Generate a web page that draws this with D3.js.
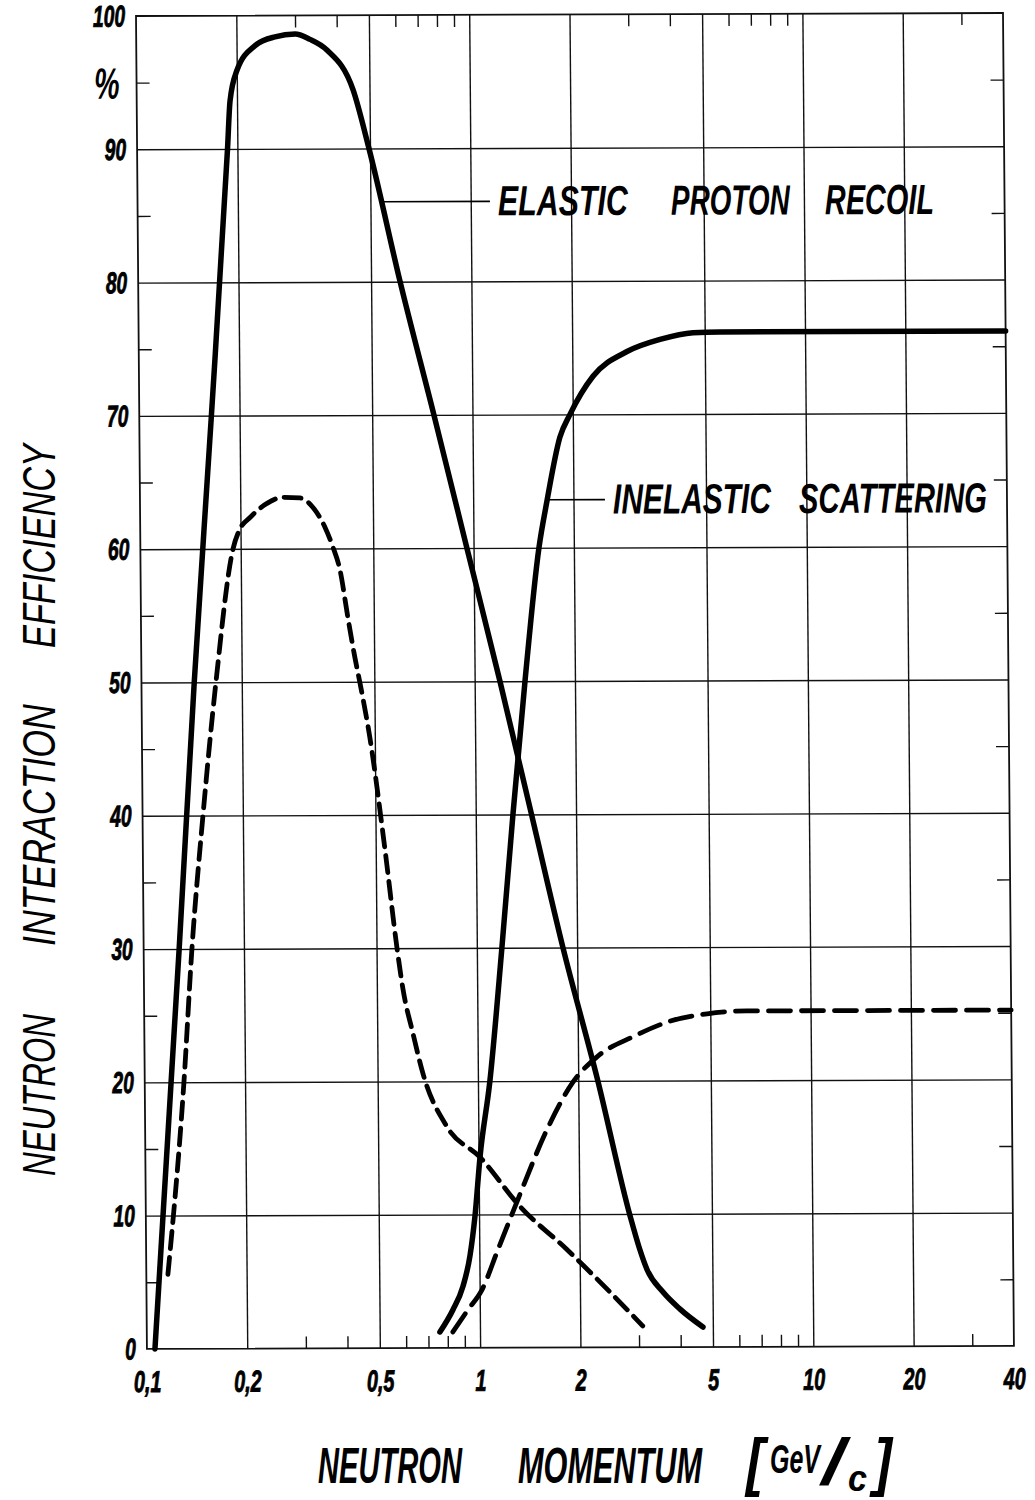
<!DOCTYPE html>
<html>
<head>
<meta charset="utf-8">
<script src="https://cdn.jsdelivr.net/npm/d3@7"></script>
<style>
   body { margin: 0; background: #fff; }
   svg { display: block; }
   text { font-family: "Liberation Sans", Arial, sans-serif; font-style: italic; fill: #000; }
</style>
</head>
<body>
<script>
"use strict"

// [momentum GeV/c, efficiency %]
const elasticSolid = [
   [0.1057, 0], [0.1278, 30], [0.144, 50], [0.1646, 70], [0.1868, 90],
   [0.1906, 93.6], [0.2003, 95.9], [0.2273, 97.75], [0.261, 98.4], [0.300, 98.6],
   [0.3323, 98.2], [0.3733, 97.4], [0.4464, 94.4], [0.4965, 90], [0.611, 80],
   [0.766, 70], [0.955, 60], [1.191, 50], [1.47, 40], [1.813, 30], [2.29, 20],
   [2.84, 9.85], [3.03, 7.35], [3.18, 5.85], [3.55, 4.13], [3.99, 2.85], [4.67, 1.5]
]
const elasticDashed = [
   [0.1161, 5.6], [0.1311, 20], [0.1396, 30], [0.1518, 40], [0.1673, 50],
   [0.1897, 60], [0.1993, 61.5], [0.2137, 62.35], [0.2405, 63.4], [0.2687, 63.85],
   [0.302, 63.8], [0.330, 63.1], [0.3585, 61.6], [0.3785, 60.1], [0.3967, 58.4],
   [0.418, 54.8], [0.4378, 51.8], [0.4527, 49.9], [0.4832, 45.8], [0.533, 37.4],
   [0.576, 30], [0.599, 26.9], [0.640, 23.6], [0.684, 20.6], [0.805, 16.6],
   [1.01, 14.3], [1.327, 10.6], [1.832, 7.35], [2.30, 4.9], [3.08, 1.6]
]
const inelasticSolid = [
   [0.758, 1.2], [0.830, 2.85], [0.891, 4.6], [0.937, 6.9], [0.972, 9.85],
   [1.010, 14.3], [1.086, 20], [1.189, 30], [1.293, 40], [1.416, 50],
   [1.571, 60], [1.665, 63.5], [1.828, 68.3], [1.962, 70], [2.305, 72.85],
   [2.92, 74.7], [3.67, 75.6], [4.61, 76.1], [5.56, 76.15], [40, 76.15]
]
const inelasticDashed = [
   [0.829, 1.2], [0.921, 2.85], [1.016, 4.35], [1.137, 7.35], [1.328, 11.5],
   [1.607, 16.35], [1.928, 19.9], [2.28, 21.8], [2.93, 23.3], [3.78, 24.45],
   [4.89, 25.0], [6.44, 25.2], [40, 25.2]
]

const xMajor = [0.1, 0.2, 0.5, 1, 2, 5, 10, 20, 40]
const xMajorLabels = ['0,1', '0,2', '0,5', '1', '2', '5', '10', '20', '40']
const xMinor = [0.3, 0.4, 0.6, 0.7, 0.8, 0.9, 3, 4, 6, 7, 8, 9, 30]
const yMajor = [0, 10, 20, 30, 40, 50, 60, 70, 80, 90, 100]
const yMajorLabels = ['0', '10', '20', '30', '40', '50', '60', '70', '80', '90', '100']
const yMinor = [5, 15, 25, 35, 45, 55, 65, 75, 85, 95]
const yUnit = '%'

const yTitleWords = ['NEUTRON', 'INTERACTION', 'EFFICIENCY']
const xTitleWords = ['NEUTRON', 'MOMENTUM']
const unitParts = ['[', 'GeV', '/', 'c', ']']
const elasticWords = ['ELASTIC', 'PROTON', 'RECOIL']
const inelasticWords = ['INELASTIC', 'SCATTERING']

const W = 1035, H = 1500
const pw = 867, ph = 1333

const svg = d3.select('body').append('svg')
   .attr('width', W)
   .attr('height', H)

// squeeze a text to a given width (the lettering is narrow)
const fit = (parent, str, px, py, len, size, extra) => {
   const t = parent.append('text')
      .attr('font-size', size)
      .attr('font-weight', 'bold')
      .text(str)
   const n = t.node().getComputedTextLength()
   t.attr('transform', `translate(${px},${py}) ${extra || ''} scale(${len / n},1)`)
   return t
}

// the original sheet is slightly sheared / turned
const plot = svg.append('g')
   .attr('transform', 'translate(136,16) rotate(-0.2) skewX(0.27)')

const x = d3.scaleLog([0.1, 40], [0, pw])
const y = d3.scaleLinear([0, 100], [ph, 0])

const clean = g => {
   g.select('.domain').remove()
   g.attr('font-size', null).attr('font-family', null)
   g.selectAll('line').attr('stroke', '#111').attr('stroke-width', 1.4)
}

// grid
plot.append('g')
   .attr('transform', `translate(0,${ph})`)
   .call(d3.axisBottom(x).tickValues(xMajor.slice(1, -1)).tickSize(-ph).tickFormat(''))
   .call(clean)
plot.append('g')
   .call(d3.axisLeft(y).tickValues(yMajor.slice(1, -1)).tickSize(-pw).tickFormat(''))
   .call(clean)

// minor ticks
plot.append('g')
   .attr('transform', `translate(0,${ph})`)
   .call(d3.axisBottom(x).tickValues(xMinor).tickSize(-12).tickFormat(''))
   .call(clean)
plot.append('g')
   .call(d3.axisTop(x).tickValues(xMinor).tickSize(-12).tickFormat(''))
   .call(clean)
plot.append('g')
   .call(d3.axisLeft(y).tickValues(yMinor).tickSize(-13).tickFormat(''))
   .call(clean)
plot.append('g')
   .attr('transform', `translate(${pw},0)`)
   .call(d3.axisRight(y).tickValues(yMinor).tickSize(-13).tickFormat(''))
   .call(clean)

plot.append('rect')
   .attr('width', pw)
   .attr('height', ph)
   .attr('fill', 'none')
   .attr('stroke', '#111')
   .attr('stroke-width', 1.8)

// tick labels
const xLab = plot.append('g')
   .attr('transform', `translate(0,${ph})`)
   .call(d3.axisBottom(x).tickValues(xMajor).tickSize(0).tickFormat((d, i) => xMajorLabels[i]))
   .call(clean)
xLab.selectAll('text')
   .attr('y', 43).attr('dy', null)
   .attr('font-size', 30).attr('font-weight', 'bold')
   .attr('stroke', '#000').attr('stroke-width', 0.9)
   .attr('transform', 'scale(0.66,1)')

const yLab = plot.append('g')
   .call(d3.axisLeft(y).tickValues(yMajor).tickSize(0).tickFormat((d, i) => yMajorLabels[i]))
   .call(clean)
yLab.selectAll('text')
   .attr('x', 0).attr('dy', null).attr('y', 10)
   .attr('font-size', 30).attr('font-weight', 'bold')
   .attr('stroke', '#000').attr('stroke-width', 0.9)
   .attr('text-anchor', 'end')
   .attr('transform', 'translate(-11,0) scale(0.64,1)')

plot.append('text')
   .attr('transform', `translate(-17,${y(95) + 16}) scale(0.65,1)`)
   .attr('text-anchor', 'end')
   .attr('font-size', 44)
   .attr('font-weight', 'bold')
   .text(yUnit)

// curves
const line = d3.line()
   .x(d => x(d[0]))
   .y(d => y(d[1]))
   .curve(d3.curveMonotoneX)

const curves = [
   { data: elasticSolid, dash: null, w: 5.5 },
   { data: inelasticSolid, dash: null, w: 5.5 },
   { data: elasticDashed, dash: '17,9', w: 4.8 },
   { data: inelasticDashed, dash: '22,11', w: 4.8 }
]
plot.selectAll('path.curve')
   .data(curves)
   .enter()
   .append('path')
      .attr('class', 'curve')
      .attr('d', d => line(d.data))
      .attr('fill', 'none')
      .attr('stroke', '#000')
      .attr('stroke-width', d => d.w)
      .attr('stroke-dasharray', d => d.dash)
      .attr('stroke-linecap', 'round')

// curve labels with leader lines
const labels = [
   { words: elasticWords, from: 0.542, to: 1.142, e: 86, offs: [0, 173, 327], lens: [130, 119, 109] },
   { words: inelasticWords, from: 1.665, to: 2.486, e: 63.6, offs: [0, 186], lens: [158, 188] }
]
labels.forEach(l => {
   plot.append('line')
      .attr('x1', x(l.from)).attr('x2', x(l.to))
      .attr('y1', y(l.e)).attr('y2', y(l.e))
      .attr('stroke', '#000').attr('stroke-width', 1.6)
   const x0 = x(l.to) + 8, y0 = y(l.e) + 14
   l.words.forEach((w, i) => {
      fit(plot, w, x0 + l.offs[i], y0, l.lens[i], 42)
   })
})

// axis titles
const yT = [[1176, 162], [946, 242], [648, 204]]
yTitleWords.forEach((w, i) => {
   fit(svg, w, 55, yT[i][0], yT[i][1], 46, 'rotate(-90)')
      .attr('font-weight', 'normal')
})
// re-measure after the weight change
svg.selectAll('text').filter(function () { return d3.select(this).attr('font-weight') === 'normal' })
   .each(function (d, i) {
      const t = d3.select(this)
      const n = this.getComputedTextLength()
      t.attr('transform', `translate(55,${yT[i][0]}) rotate(-90) scale(${yT[i][1] / n},1)`)
   })

const xT = [[318, 144], [518, 184]]
xTitleWords.forEach((w, i) => {
   fit(svg, w, xT[i][0], 1483, xT[i][1], 50)
})

// [GeV/c] written as a fraction
const uPos = [[746, 1484, 18, 64], [770, 1473, 50, 40], [822, 1484, 22, 64], [848, 1491, 19, 36], [874, 1484, 18, 64]]
unitParts.forEach((p, i) => {
   fit(svg, p, uPos[i][0], uPos[i][1], uPos[i][2], uPos[i][3])
})
</script>
</body>
</html>
